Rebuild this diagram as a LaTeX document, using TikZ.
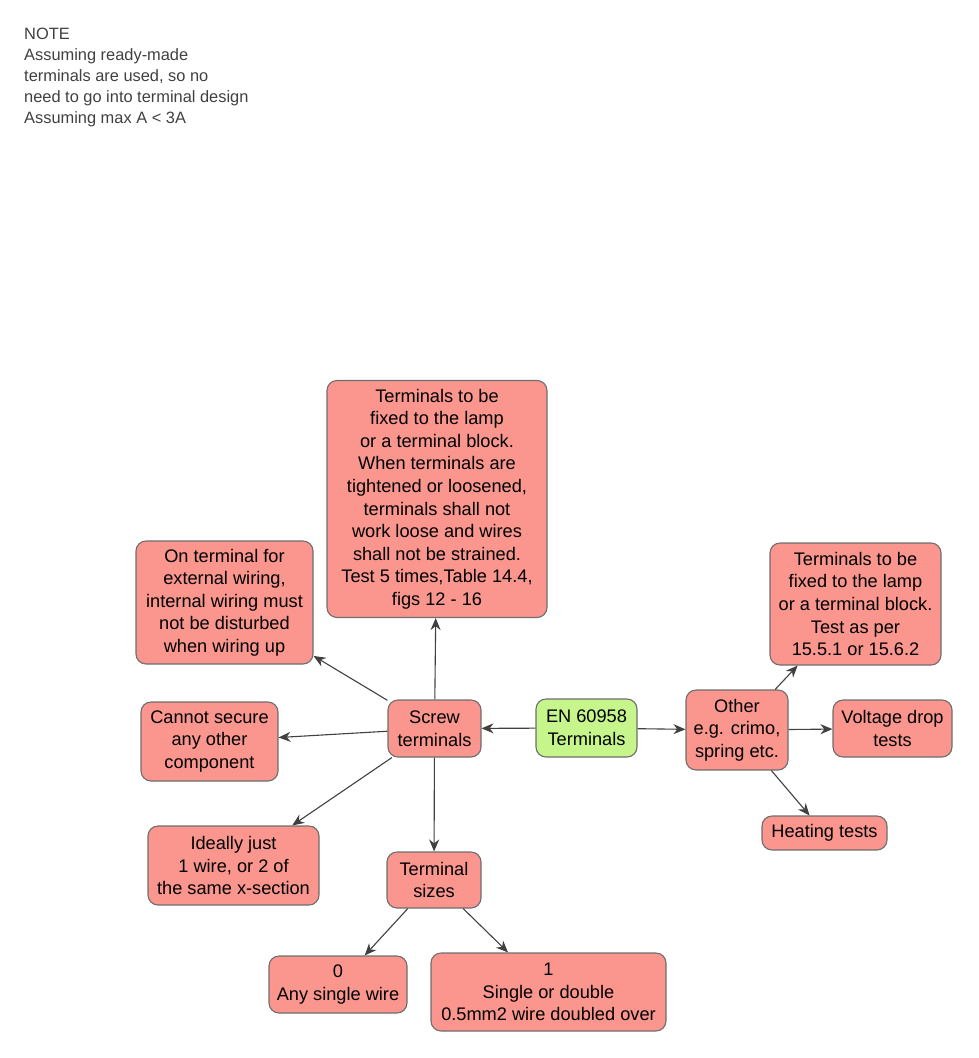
\documentclass[tikz,border=0pt]{standalone}
\usepackage{fontspec}
\setmainfont{Liberation Sans}
\usetikzlibrary{arrows.meta}
\definecolor{boxred}{HTML}{FA968E}
\definecolor{boxgreen}{HTML}{C6F58C}
\definecolor{boxline}{HTML}{6E6E6E}
\definecolor{arrline}{HTML}{404040}
\tikzset{
  box/.style={draw=boxline, line width=1.1pt, fill=boxred, rounded corners=10pt,
    align=center, inner sep=2pt, font=\fontsize{18.2}{22.6}\selectfont},
  link/.style={draw=arrline, line width=1.1pt, -{Stealth[length=12pt,width=10pt]}}
}
\begin{document}
\begin{tikzpicture}[x=1pt,y=-1pt]
  \useasboundingbox (0,0) rectangle (978,1058);
  % note
  \node (note) [anchor=north west, align=left, text=arrline, inner sep=0pt,
    font=\fontsize{16.4}{21}\selectfont] at (24,28)
    {NOTE\\Assuming ready-made\\terminals are used, so no\\need to go into terminal design\\Assuming max A < 3A};

  % centre
  \node (en) [box, fill=boxgreen, minimum width=101pt, minimum height=58pt] at (586.5,728) {EN 60958\\Terminals};

  % screw side
  \node (screw) [box, minimum width=93pt, minimum height=57pt] at (434.5,728.5) {Screw\\terminals};
  \node (fixed) [box, minimum width=220pt, minimum height=237pt] at (437,499)
    {Terminals to be\\ fixed to the lamp\\or a terminal block.\\When terminals are\\tightened or loosened,\\terminals shall not\\work loose and wires\\shall not be strained.\\Test 5 times,Table 14.4,\\figs 12 - 16};
  \node (ext) [box, minimum width=177pt, minimum height=123pt] at (224.5,602.5)
    {On terminal for\\external wiring,\\internal wiring must\\not be disturbed\\when wiring up};
  \node (secure) [box, minimum width=137pt, minimum height=79pt] at (209.5,741.5)
    {Cannot secure\\any other\\component};
  \node (ideal) [box, minimum width=171pt, minimum height=79pt] at (233.5,865.5)
    {Ideally just\\1 wire, or 2 of\\the same x-section};
  \node (sizes) [box, minimum width=94pt, minimum height=56pt] at (434,880) {Terminal\\sizes};
  \node (s0) [box, minimum width=138pt, minimum height=57pt] at (338,984.5) {0\\Any single wire};
  \node (s1) [box, minimum width=235pt, minimum height=78pt] at (548.5,992)
    {1\\Single or double\\0.5mm2 wire doubled over};

  % other side
  \node (other) [box, minimum width=102pt, minimum height=80pt] at (737,730)
    {Other\\e.g. crimo,\\spring etc.};
  \node (block) [box, minimum width=171pt, minimum height=122pt] at (855.5,604)
    {Terminals to be\\fixed to the lamp\\or a terminal block.\\Test as per\\15.5.1 or 15.6.2};
  \node (volt) [box, minimum width=119pt, minimum height=57pt] at (892.5,728.5) {Voltage drop\\tests};
  \node (heat) [box, minimum width=125pt, minimum height=34pt] at (824.5,833) {Heating tests};

  \draw [link] (en) -- (screw);
  \draw [link] (en) -- (other);
  \foreach \x in {fixed,ext,secure,ideal,sizes}
    \draw [link] (screw) -- (\x);
  \foreach \x in {s0,s1}
    \draw [link] (sizes) -- (\x);
  \foreach \x in {block,volt,heat}
    \draw [link] (other) -- (\x);
\end{tikzpicture}
\end{document}
